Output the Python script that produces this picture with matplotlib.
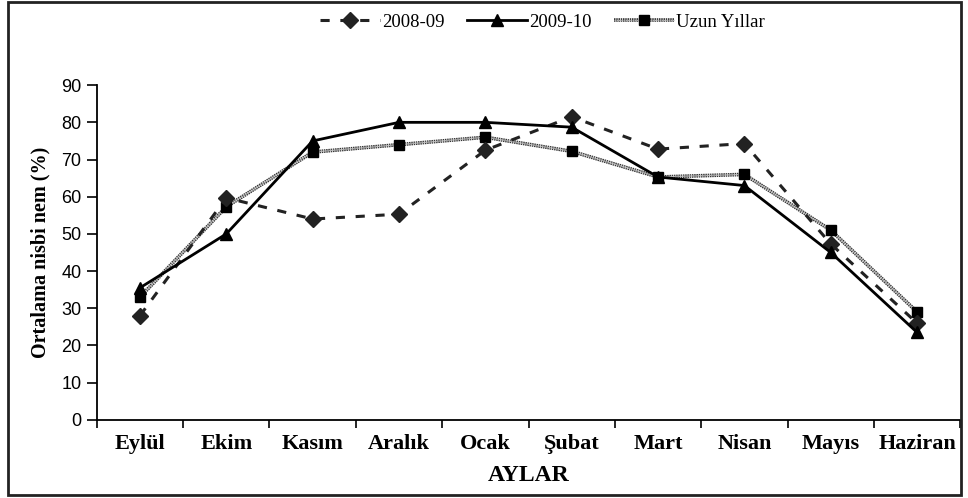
import numpy as np
import matplotlib
matplotlib.use("Agg")
import matplotlib.pyplot as plt
import matplotlib.patheffects as pe
from matplotlib.patches import Rectangle

months = ["Eylül", "Ekim", "Kasım", "Aralık", "Ocak", "Şubat", "Mart", "Nisan", "Mayıs", "Haziran"]
y0809 = [28.0, 59.7, 54.0, 55.3, 72.5, 81.5, 72.8, 74.3, 47.3, 26.0]
y0910 = [35.5, 50.0, 75.0, 80.0, 80.0, 78.7, 65.3, 63.0, 45.0, 23.5]
yuzun = [33.0, 57.3, 72.0, 74.0, 76.0, 72.2, 65.3, 66.0, 51.0, 29.0]

serif = ["Liberation Serif", "DejaVu Serif"]
sans = ["Liberation Sans Narrow", "Liberation Sans", "DejaVu Sans"]

fig = plt.figure(figsize=(9.68, 4.98), dpi=100)
ax = fig.add_axes([0.100, 0.157, 0.892, 0.672])
x = np.arange(len(months))

l1, = ax.plot(x, y0809, color="#222222", lw=2.2, ls=(0, (3, 3.5)),
              marker="D", ms=8, mfc="#222222", mec="#222222", zorder=3)
l2, = ax.plot(x, y0910, color="black", lw=2.0, marker="^", ms=8,
              mfc="black", mec="black", zorder=4)
# long-term line: light dotted core with dark outline
l3a, = ax.plot(x, yuzun, color="#b0b0b0", lw=0.9, ls=(0, (1.2, 0.6)), zorder=2,
               path_effects=[pe.Stroke(linewidth=2.6, foreground="#333333"), pe.Normal()])
l3b, = ax.plot(x, yuzun, ls="none", marker="s", ms=7, mfc="black", mec="black", zorder=2.5)

ax.set_xlim(-0.5, len(months) - 0.5)
ax.set_ylim(0, 90)
ax.set_yticks(np.arange(0, 91, 10))
ax.set_xticks(x)
ax.set_xticks(np.arange(-0.5, len(months), 1), minor=True)
ax.set_xticklabels(months, family=serif, fontweight="bold", fontsize=16)
ax.tick_params(axis="x", which="major", length=0, pad=10)
ax.tick_params(axis="x", which="minor", length=6, width=1.2, direction="out")
ax.tick_params(axis="y", length=7, width=1.2, direction="out", labelsize=13, pad=4)
for lab in ax.get_yticklabels():
    lab.set_family(sans)
for s in ["top", "right"]:
    ax.spines[s].set_visible(False)
for s in ["left", "bottom"]:
    ax.spines[s].set_linewidth(1.3)

ax.set_ylabel("Ortalama nisbi nem (%)", family=serif, fontweight="bold", fontsize=14.5, labelpad=8)
ax.set_xlabel("AYLAR", family=serif, fontweight="bold", fontsize=17, labelpad=8)

fig.legend(handles=[l1, l2, (l3a, l3b)], labels=["2008-09", "2009-10", "Uzun Yıllar"],
           loc="center", bbox_to_anchor=(0.56, 0.955), ncol=3,
           frameon=False, prop={"family": serif, "size": 13.5}, handlelength=3.2,
           columnspacing=1.2, handletextpad=0.1)

fig.patches.append(Rectangle((0.008, 0.006), 0.985, 0.99, transform=fig.transFigure,
                             fill=False, edgecolor="#222222", linewidth=2))

fig.savefig("out.png", dpi=100)
